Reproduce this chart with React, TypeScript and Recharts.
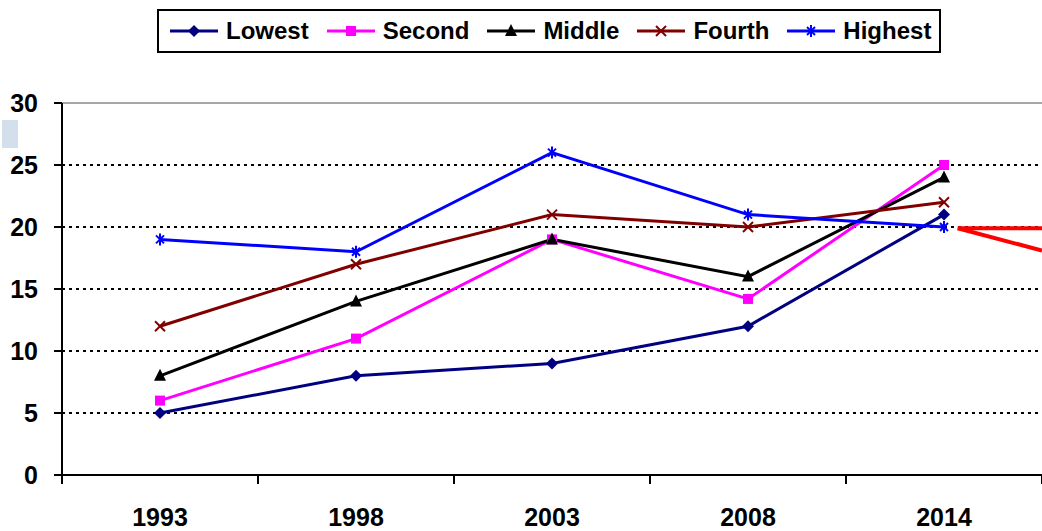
import { CartesianGrid, ComposedChart, Line, ReferenceLine, XAxis, YAxis } from "recharts"

const years = ["1993", "1998", "2003", "2008", "2014"]
const lowest = [5, 8, 9, 12, 21]
const second = [6, 11, 19, 14.2, 25]
const middle = [8, 14, 19, 16, 24]
const fourth = [12, 17, 21, 20, 22]
const highest = [19, 18, 26, 21, 20]
const yTicks = [0, 5, 10, 15, 20, 25, 30]
// band edges (integers) and band centres (halves) on the x axis
const xTicks = [0, 0.5, 1, 1.5, 2, 2.5, 3, 3.5, 4, 4.5, 5]

const series = [
  { key: "lowest", name: "Lowest", color: "#000080", marker: "diamond" },
  { key: "second", name: "Second", color: "#FF00FF", marker: "square" },
  { key: "middle", name: "Middle", color: "#000000", marker: "triangle" },
  { key: "fourth", name: "Fourth", color: "#800000", marker: "cross" },
  { key: "highest", name: "Highest", color: "#0000FF", marker: "star" },
]

const data = years.map((year, i) => ({
  pos: i + 0.5,
  year,
  lowest: lowest[i],
  second: second[i],
  middle: middle[i],
  fourth: fourth[i],
  highest: highest[i],
}))

function Marker({ shape, color, cx, cy }: { shape: string; color: string; cx: number; cy: number }) {
  if (cx == null || cy == null) return <g />
  switch (shape) {
    case "diamond":
      return <polygon points={`${cx},${cy - 6} ${cx + 6},${cy} ${cx},${cy + 6} ${cx - 6},${cy}`} fill={color} />
    case "square":
      return <rect x={cx - 5} y={cy - 5} width={10} height={10} fill={color} />
    case "triangle":
      return <polygon points={`${cx},${cy - 7} ${cx + 6},${cy + 5} ${cx - 6},${cy + 5}`} fill={color} />
    case "cross":
      return (
        <g stroke={color} strokeWidth={2}>
          <line x1={cx - 5} y1={cy - 5} x2={cx + 5} y2={cy + 5} />
          <line x1={cx - 5} y1={cy + 5} x2={cx + 5} y2={cy - 5} />
        </g>
      )
    default:
      return (
        <g stroke={color} strokeWidth={2}>
          <line x1={cx - 4} y1={cy - 4} x2={cx + 4} y2={cy + 4} />
          <line x1={cx - 4} y1={cy + 4} x2={cx + 4} y2={cy - 4} />
          <line x1={cx} y1={cy - 6} x2={cx} y2={cy + 6} />
        </g>
      )
  }
}

const tickFont = { fontSize: 25, fontWeight: 700, fill: "#000", fontFamily: "Liberation Sans" }

function XTick(props: any) {
  const { x, y, payload } = props
  const v = payload.value as number
  if (Number.isInteger(v)) {
    return <line x1={x} y1={y} x2={x} y2={y + 9} stroke="#000" strokeWidth={2} />
  }
  return (
    <text x={x} y={y + 51} textAnchor="middle" {...tickFont}>
      {years[Math.floor(v)]}
    </text>
  )
}

export default function App() {
  return (
    <div style={{ position: "relative", width: 1042, height: 531, fontFamily: "Liberation Sans", background: "#fff" }}>
      <style>{`body{margin:0}`}</style>
      <div style={{ position: "absolute", left: 2, top: 120, width: 16, height: 28, background: "#d3dfea" }} />
      <div
        style={{
          position: "absolute",
          left: 157,
          top: 9,
          width: 784,
          height: 44,
          border: "2px solid #000",
          boxSizing: "border-box",
          display: "flex",
          alignItems: "center",
          paddingLeft: 11,
          gap: 18,
          zIndex: 2,
          background: "#fff",
        }}
      >
        {series.map((s) => (
          <div key={s.key} style={{ display: "flex", alignItems: "center", gap: 8 }}>
            <svg width={48} height={14} style={{ display: "block" }}>
              <line x1={0} y1={7} x2={48} y2={7} stroke={s.color} strokeWidth={3} />
              <Marker shape={s.marker} color={s.color} cx={24} cy={7} />
            </svg>
            <span style={{ fontSize: 24, fontWeight: 700, color: "#000", lineHeight: "28px" }}>{s.name}</span>
          </div>
        ))}
      </div>
      <ComposedChart width={1042} height={531} data={data} margin={{ top: 103, right: 0, left: 0, bottom: 0 }}>
        <CartesianGrid vertical={false} stroke="#000" strokeDasharray="3 4" strokeWidth={2} />
        <ReferenceLine y={30} stroke="#a6a6a6" strokeWidth={2} />
        <XAxis
          type="number"
          dataKey="pos"
          domain={[0, 5]}
          ticks={xTicks}
          interval={0}
          height={56}
          stroke="#000"
          strokeWidth={2}
          axisLine={{ stroke: "#000", strokeWidth: 2 }}
          tickLine={false}
          tickSize={0}
          tickMargin={0}
          tick={<XTick />}
        />
        <YAxis
          width={62}
          domain={[0, 30]}
          ticks={yTicks}
          interval={0}
          tickSize={8}
          tickMargin={16}
          stroke="#000"
          strokeWidth={2}
          tick={tickFont}
          tickLine={{ stroke: "#000", strokeWidth: 2 }}
          axisLine={{ stroke: "#000", strokeWidth: 2 }}
        />
        {series.map((s) => (
          <Line
            key={s.key}
            type="linear"
            dataKey={s.key}
            stroke={s.color}
            strokeWidth={3}
            isAnimationActive={false}
            dot={(p: any) => <Marker key={`${s.key}-${p.index}`} shape={s.marker} color={s.color} cx={p.cx} cy={p.cy} />}
            activeDot={false}
          />
        ))}
        <ReferenceLine segment={[{ x: 4.57, y: 19.9 }, { x: 5, y: 19.9 }]} stroke="#FF0000" strokeWidth={4} />
        <ReferenceLine segment={[{ x: 4.57, y: 19.9 }, { x: 5, y: 18.1 }]} stroke="#FF0000" strokeWidth={4} />
      </ComposedChart>
    </div>
  )
}
